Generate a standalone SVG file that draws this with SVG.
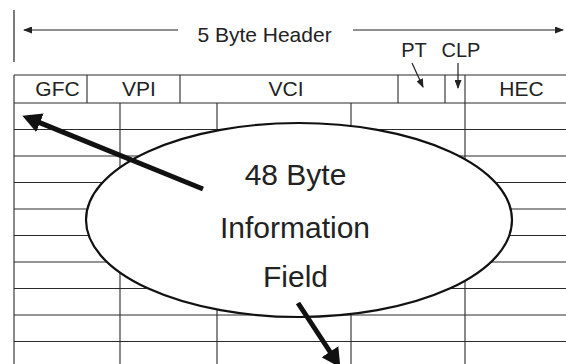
<svg xmlns="http://www.w3.org/2000/svg" width="566" height="364" viewBox="0 0 566 364">
<style>
.t{font-family:"Liberation Sans",Arial,sans-serif;fill:#222;text-anchor:middle}
.g{stroke:#2a2a2a;stroke-width:1.1;fill:none}
.thin{stroke:#222;stroke-width:1.2;fill:none}
.big{stroke:#111;stroke-width:5;fill:none}
</style>
<defs>
<marker id="sm" markerUnits="userSpaceOnUse" markerWidth="9" markerHeight="7" refX="8" refY="3.5" orient="auto"><path d="M0,0 L9,3.5 L0,7 z" fill="#222"/></marker>
<marker id="bg" markerUnits="userSpaceOnUse" markerWidth="19" markerHeight="20" refX="1" refY="10" orient="auto"><path d="M0,0 L19,10 L0,20 z" fill="#111"/></marker>
</defs>
<rect width="566" height="364" fill="#fff"/>
<g id="header-span">
<line class="thin" x1="14" y1="10" x2="14" y2="62"/>
<line class="thin" x1="178" y1="30" x2="24" y2="30" marker-end="url(#sm)"/>
<line class="thin" x1="353" y1="30" x2="563" y2="30" marker-end="url(#sm)"/>
<text class="t" x="264.5" y="42" font-size="21">5 Byte Header</text>
<text class="t" x="414" y="57" font-size="20">PT</text>
<text class="t" x="461" y="57" font-size="20">CLP</text>
</g>
<g id="header-row">
<path class="g" d="M14,75 H566 M14,103 H566 M87,75 V103 M180,75 V103 M398,75 V103 M445,75 V103"/>
<text class="t" x="57.5" y="96" font-size="21">GFC</text>
<text class="t" x="139" y="96" font-size="21">VPI</text>
<text class="t" x="286" y="96" font-size="21">VCI</text>
<text class="t" x="521.5" y="96" font-size="21">HEC</text>
</g>
<g id="payload-grid">
<path class="g" d="M14,75 V364 M120,103 V364 M217,103 V364 M351,103 V364 M465,75 V364
M14,129.5 H566 M14,156 H566 M14,182.5 H566 M14,209 H566 M14,235.5 H566 M14,262 H566 M14,288.5 H566 M14,315 H566 M14,341.5 H566"/>
</g>
<g id="info-field">
<ellipse cx="299" cy="220" rx="213" ry="97" fill="#fff" stroke="#111" stroke-width="2.2"/>
<text class="t" x="295.5" y="185" font-size="30">48 Byte</text>
<text class="t" x="295" y="238" font-size="30">Information</text>
<text class="t" x="295.5" y="287" font-size="30">Field</text>
</g>
<g id="connectors">
<line class="thin" x1="412" y1="63" x2="423" y2="87" marker-end="url(#sm)"/>
<line class="thin" x1="458" y1="63" x2="458" y2="88" marker-end="url(#sm)"/>
<line class="big" x1="203" y1="189" x2="39" y2="122.4" marker-end="url(#bg)"/>
<line class="big" x1="298" y1="303" x2="330.5" y2="352.5" marker-end="url(#bg)"/>
</g>
</svg>
